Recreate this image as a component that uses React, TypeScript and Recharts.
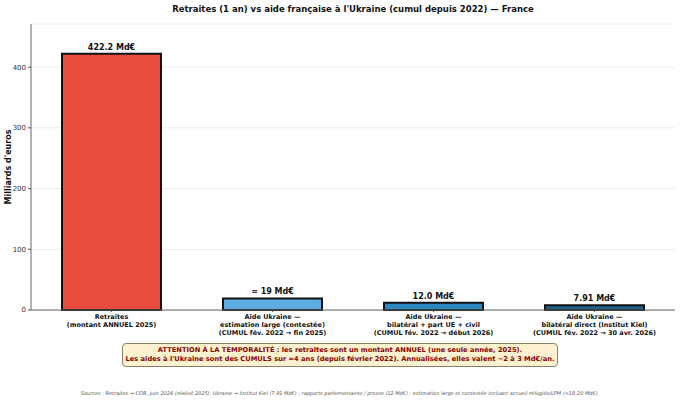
import { BarChart, Bar, XAxis, YAxis, CartesianGrid, LabelList, Cell } from 'recharts';

const categories = ['retraites', 'large', 'bilateral_ue', 'kiel'];
const tickLabels = [
  ['Retraites', '(montant ANNUEL 2025)'],
  ['Aide Ukraine —', 'estimation large (contestée)', '(CUMUL fév. 2022 → fin 2025)'],
  ['Aide Ukraine —', 'bilatéral + part UE + civil', '(CUMUL fév. 2022 → début 2026)'],
  ['Aide Ukraine —', 'bilatéral direct (Institut Kiel)', '(CUMUL fév. 2022 → 30 avr. 2026)'],
];
const values = [422.2, 19, 12.0, 7.91];
const valueLabels = ['422.2 Md€', '≈ 19 Md€', '12.0 Md€', '7.91 Md€'];
const yTicks = [0, 100, 200, 300, 400];
const barColors = ['#e74c3c', '#5dade2', '#2e86c1', '#1f618d'];

const data = categories.map((id, i) => ({ id, value: values[i], label: valueLabels[i] }));

const FONT = '"DejaVu Sans", sans-serif';

// libellés de catégories sur plusieurs lignes
const CategoryTick = ({ x, y, payload }: any) => {
  const idx = categories.indexOf(payload.value);
  const lines = tickLabels[idx] || [];
  return (
    <text x={x} y={y} textAnchor="middle" fontFamily={FONT} fontSize={6.5} fontWeight="bold" fill="#111">
      {lines.map((l, i) => (
        <tspan key={i} x={x} dy={i === 0 ? 4.5 : 8}>{l}</tspan>
      ))}
    </text>
  );
};

const App = () => {
  return (
    <div style={{ position: 'absolute', left: 0, top: 0, width: 680, height: 402, background: '#fff', fontFamily: FONT }}>
      {/* titre */}
      <div style={{ position: 'absolute', left: 31, width: 644, top: 3, textAlign: 'center', fontSize: 8.5, fontWeight: 'bold', lineHeight: '12px', color: '#111', whiteSpace: 'nowrap' }}>
        Retraites (1 an) vs aide française à l'Ukraine (cumul depuis 2022) — France
      </div>

      <BarChart width={680} height={402} data={data} margin={{ top: 24, right: 5, left: 0, bottom: 62 }}>
        <CartesianGrid horizontal vertical={false} stroke="#ececec" />
        <XAxis
          dataKey="id"
          height={30}
          tick={<CategoryTick />}
          tickLine={{ stroke: '#555' }}
          tickSize={2}
          axisLine={{ stroke: '#666' }}
          interval={0}
        />
        <XAxis xAxisId="top" orientation="top" dataKey="id" height={0} tick={false} tickLine={false} axisLine={{ stroke: '#666' }} />
        <YAxis
          width={31}
          domain={[0, 471]}
          ticks={yTicks}
          tick={{ fontSize: 7, fill: '#333', fontFamily: FONT }}
          tickLine={{ stroke: '#555' }}
          tickSize={3}
          axisLine={{ stroke: '#666' }}
        />
        <YAxis yAxisId="right" orientation="right" width={0} tick={false} tickLine={false} axisLine={{ stroke: '#666' }} />
        <Bar dataKey="value" barSize={99} stroke="#111" strokeWidth={2} isAnimationActive={false}>
          {data.map((d, i) => (
            <Cell key={d.id} fill={barColors[i]} />
          ))}
          <LabelList dataKey="label" position="top" offset={4} style={{ fontSize: 8, fontWeight: 'bold', fill: '#111', fontFamily: FONT }} />
        </Bar>
      </BarChart>

      {/* axe Y */}
      <div style={{ position: 'absolute', left: 8, top: 167, transform: 'translate(-50%, -50%) rotate(-90deg)', whiteSpace: 'nowrap', fontSize: 8, fontWeight: 'bold', color: '#111' }}>
        Milliards d'euros
      </div>

      {/* encadré */}
      <div style={{
        position: 'absolute', left: 122, top: 343, width: 436, height: 24, boxSizing: 'border-box',
        border: '1px solid #8a7f6a', borderRadius: 4, background: '#fdf2d0', color: '#8b0000',
        fontSize: 6.7, fontWeight: 'bold', lineHeight: '8.6px', textAlign: 'center', whiteSpace: 'nowrap',
        display: 'flex', flexDirection: 'column', justifyContent: 'center',
      }}>
        <div>ATTENTION À LA TEMPORALITÉ : les retraites sont un montant ANNUEL (une seule année, 2025).</div>
        <div>Les aides à l'Ukraine sont des CUMULS sur ≈4 ans (depuis février 2022). Annualisées, elles valent ~2 à 3 Md€/an.</div>
      </div>

      {/* sources */}
      <div style={{ position: 'absolute', left: 0, width: 680, top: 390, textAlign: 'center', fontSize: 5, fontStyle: 'italic', color: '#555', whiteSpace: 'nowrap' }}>
        Sources : Retraites → COR, juin 2026 (réalisé 2025).  Ukraine → Institut Kiel (7,91 Md€) ; rapports parlementaires / presse (12 Md€) ; estimation large et contestée incluant accueil réfugiés/LPM (≈18-20 Md€).
      </div>
    </div>
  );
};

export default App;
